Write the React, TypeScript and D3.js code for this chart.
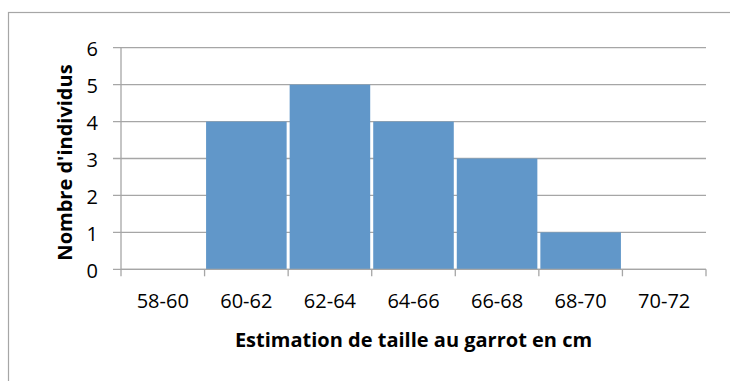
import React from "react";
import * as d3 from "d3";

const categories = ["58-60", "60-62", "62-64", "64-66", "66-68", "68-70", "70-72"];
const counts = [0, 4, 5, 4, 3, 1, 0];
const yTicks = [0, 1, 2, 3, 4, 5, 6];
const xTitle = "Estimation de taille au garrot en cm";
const yTitle = "Nombre d'individus";

const W = 730;
const H = 381;
const plot = { left: 121, right: 706, top: 47.7, bottom: 269.3 };
const FONT = "'Open Sans', sans-serif";
const GRID = "#a6a6a6";
const BAR = "#6197c9";

export default function App() {
  const x = d3
    .scaleBand<string>()
    .domain(categories)
    .range([plot.left, plot.right])
    .paddingInner(0.036)
    .paddingOuter(0.018);
  const y = d3.scaleLinear().domain([0, 6]).range([plot.bottom, plot.top]);
  const step = (plot.right - plot.left) / categories.length;
  const boundaries = d3.range(categories.length + 1).map((i) => plot.left + i * step);

  return (
    <svg
      width={W}
      height={H}
      style={{ position: "absolute", left: 0, top: 0, background: "#fff" }}
      fontFamily={FONT}
    >
      <rect x={8.5} y={12.5} width={W + 20} height={H + 20} fill="#fff" stroke={GRID} strokeWidth={1.2} />
      {yTicks.map((t) => (
        <g key={t}>
          <line x1={plot.left - 8} x2={plot.right} y1={y(t)} y2={y(t)} stroke={GRID} strokeWidth={1.3} />
          <text x={98} y={y(t) + 8.5} textAnchor="end" fontSize={20} fill="#000">
            {t}
          </text>
        </g>
      ))}
      {categories.map((c, i) =>
        counts[i] > 0 ? (
          <rect
            key={c}
            x={x(c)}
            y={y(counts[i])}
            width={x.bandwidth()}
            height={y(0) - y(counts[i])}
            fill={BAR}
          />
        ) : null
      )}
      <line x1={plot.left} x2={plot.left} y1={plot.top} y2={plot.bottom} stroke={GRID} strokeWidth={1.3} />
      <line x1={plot.left} x2={plot.right} y1={plot.bottom} y2={plot.bottom} stroke={GRID} strokeWidth={1.3} />
      {boundaries.map((b, i) => (
        <line key={i} x1={b} x2={b} y1={plot.bottom} y2={plot.bottom + 7} stroke={GRID} strokeWidth={1.3} />
      ))}
      {categories.map((c) => (
        <text key={c} x={(x(c) as number) + x.bandwidth() / 2} y={308} textAnchor="middle" fontSize={20} fill="#000">
          {c}
        </text>
      ))}
      <text x={(plot.left + plot.right) / 2 + 0} y={347} textAnchor="middle" fontSize={20} fontWeight="bold" fill="#000">
        {xTitle}
      </text>
      <text
        transform={`translate(72, 162.5) rotate(-90)`}
        textAnchor="middle"
        fontSize={20}
        fontWeight="bold"
        fill="#000"
      >
        {yTitle}
      </text>
    </svg>
  );
}
